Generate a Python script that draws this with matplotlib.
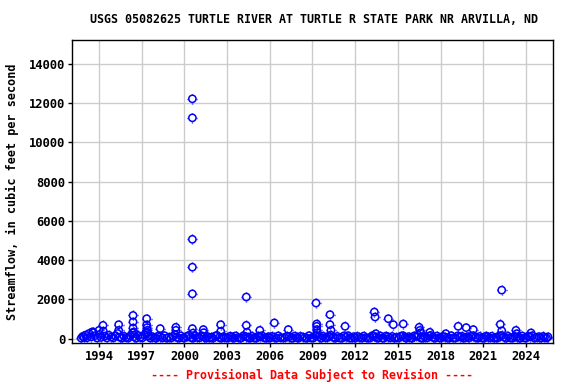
import numpy as np
import matplotlib
matplotlib.use('Agg')
import matplotlib.pyplot as plt
from matplotlib.path import Path

# low-flow band, decimal years and cfs
low_t = [
    1992.75, 1992.85, 1992.95,
    1993.05, 1993.15, 1993.3, 1993.45, 1993.55, 1993.7, 1993.85,
    1994.05, 1994.15, 1994.3, 1994.4, 1994.55, 1994.7, 1994.85,
    1995.0, 1995.15, 1995.3, 1995.45, 1995.6, 1995.75, 1995.9,
    1996.05, 1996.2, 1996.35, 1996.45, 1996.6, 1996.75, 1996.9,
    1997.05, 1997.2, 1997.3, 1997.45, 1997.6, 1997.75, 1997.9,
    1998.0, 1998.15, 1998.3, 1998.45, 1998.6, 1998.75, 1998.9,
    1999.05, 1999.2, 1999.35, 1999.45, 1999.6, 1999.75, 1999.9,
    2000.0, 2000.15, 2000.3, 2000.45, 2000.6, 2000.75, 2000.9,
    2001.05, 2001.2, 2001.35, 2001.5, 2001.6, 2001.75, 2001.9,
    2002.0, 2002.15, 2002.3, 2002.45, 2002.6, 2002.75, 2002.9,
    2003.05, 2003.2, 2003.35, 2003.45, 2003.6, 2003.75, 2003.9,
    2004.0, 2004.15, 2004.3, 2004.45, 2004.6, 2004.75, 2004.9,
    2005.05, 2005.2, 2005.3, 2005.45, 2005.6, 2005.75, 2005.9,
    2006.0, 2006.15, 2006.3, 2006.45, 2006.6, 2006.75, 2006.9,
    2007.05, 2007.2, 2007.35, 2007.5, 2007.6, 2007.75, 2007.9,
    2008.0, 2008.15, 2008.3, 2008.45, 2008.6, 2008.75, 2008.9,
    2009.05, 2009.2, 2009.3, 2009.45, 2009.6, 2009.75, 2009.9,
    2010.0, 2010.15, 2010.3, 2010.45, 2010.6, 2010.75, 2010.9,
    2011.05, 2011.2, 2011.35, 2011.5, 2011.6, 2011.75, 2011.9,
    2012.0, 2012.15, 2012.3, 2012.45, 2012.6, 2012.75, 2012.9,
    2013.05, 2013.2, 2013.3, 2013.45, 2013.6, 2013.75, 2013.9,
    2014.0, 2014.15, 2014.3, 2014.45, 2014.6, 2014.75, 2014.9,
    2015.05, 2015.2, 2015.35, 2015.5, 2015.6, 2015.75, 2015.9,
    2016.0, 2016.15, 2016.3, 2016.45, 2016.6, 2016.75, 2016.9,
    2017.05, 2017.2, 2017.3, 2017.45, 2017.6, 2017.75, 2017.9,
    2018.0, 2018.15, 2018.3, 2018.45, 2018.6, 2018.75, 2018.9,
    2019.05, 2019.2, 2019.35, 2019.5, 2019.6, 2019.75, 2019.9,
    2020.0, 2020.15, 2020.3, 2020.45, 2020.6, 2020.75, 2020.9,
    2021.05, 2021.2, 2021.3, 2021.45, 2021.6, 2021.75, 2021.9,
    2022.0, 2022.15, 2022.3, 2022.45, 2022.6, 2022.75, 2022.9,
    2023.05, 2023.2, 2023.35, 2023.5, 2023.6, 2023.75, 2023.9,
    2024.0, 2024.15, 2024.3, 2024.45, 2024.6, 2024.75, 2024.9,
    2025.05, 2025.2, 2025.3, 2025.45, 2025.55,
]
low_q = [
    20, 110, 60,
    180, 40, 260, 90, 350, 150, 30,
    220, 60, 380, 120, 30, 170, 80,
    40, 150, 260, 70, 20, 120, 50,
    30, 140, 300, 90, 20, 160, 60,
    40, 180, 320, 120, 30, 100, 50,
    20, 130, 90, 40, 150, 20, 70,
    30, 120, 200, 60, 20, 140, 40,
    30, 110, 160, 50, 20, 130, 60,
    40, 150, 90, 20, 110, 30, 70,
    20, 130, 160, 50, 20, 100, 40,
    30, 120, 80, 20, 140, 50, 20,
    40, 150, 100, 60, 20, 120, 30,
    20, 130, 90, 150, 40, 20, 100,
    30, 110, 70, 20, 140, 50, 30,
    40, 120, 90, 30, 20, 130, 60,
    20, 110, 80, 40, 20, 150, 30,
    30, 140, 160, 90, 20, 120, 50,
    40, 130, 170, 60, 20, 110, 30,
    20, 140, 80, 150, 30, 20, 100,
    30, 110, 60, 20, 130, 50, 20,
    40, 150, 120, 70, 20, 140, 30,
    20, 130, 90, 40, 110, 20, 60,
    30, 120, 150, 60, 20, 100, 40,
    20, 140, 110, 170, 30, 20, 90,
    40, 120, 160, 60, 20, 130, 50,
    20, 110, 80, 40, 20, 150, 30,
    30, 140, 90, 120, 20, 50, 100,
    40, 120, 150, 60, 20, 110, 30,
    20, 130, 90, 40, 120, 20, 60,
    30, 140, 160, 70, 20, 120, 40,
    20, 110, 80, 40, 20, 130, 30,
    30, 120, 90, 150, 20, 50, 100,
    20, 110, 60, 30, 90,
]

# higher flows
peak_t = [1994.28, 1993.6, 1994.0, 1995.38, 1995.38, 1996.39, 1996.39, 1996.39, 1996.45,
          1997.35, 1997.35, 1997.38, 1997.4, 1997.42, 1998.3,
          1999.4, 1999.4, 2000.56, 2000.56, 2000.56, 2000.56, 2000.56, 2000.56, 2000.6,
          2001.33, 2001.35, 2002.55, 2002.55, 2004.35, 2004.35, 2004.4, 2005.3,
          2006.32, 2007.3, 2009.25, 2009.3, 2009.3, 2009.3, 2009.35,
          2010.23, 2010.23, 2010.3, 2011.29, 2013.35, 2013.4, 2013.45,
          2014.33, 2014.68, 2015.38, 2016.5, 2016.55, 2016.6, 2017.25, 2018.37,
          2019.24, 2019.8, 2020.3, 2022.2, 2022.3, 2022.3, 2023.3, 2023.35, 2024.36]
peak_q = [675, 300, 420, 710, 420, 1180, 850, 540, 330,
          1015, 700, 560, 420, 300, 510,
          575, 420, 12220, 11250, 5060, 3640, 2280, 510, 280,
          460, 300, 710, 370, 2120, 675, 320, 420,
          800, 460, 1810, 745, 625, 460, 300,
          1220, 710, 420, 625, 1355, 1100, 250,
          1015, 710, 745, 575, 420, 300, 320, 250,
          625, 560, 460, 725, 2470, 400, 420, 250, 290]

x_ticks = [1994, 1997, 2000, 2003, 2006, 2009, 2012, 2015, 2018, 2021, 2024]
y_ticks = [0, 2000, 4000, 6000, 8000, 10000, 12000, 14000]

# four little ticks sticking out of each circle, like the USGS gif markers
verts, codes = [], []
for dx, dy in [(1, 0), (-1, 0), (0, 1), (0, -1)]:
    verts += [(0.72 * dx, 0.72 * dy), (dx, dy)]
    codes += [Path.MOVETO, Path.LINETO]
ticks_mark = Path(verts, codes)

plt.rcParams['font.family'] = 'DejaVu Sans Mono'
plt.rcParams['font.weight'] = 'bold'

fig = plt.figure(figsize=(5.76, 3.84), dpi=100)
ax = fig.add_axes([0.125, 0.107, 0.835, 0.789])

t = np.array(low_t + peak_t)
q = np.array(low_q + peak_q)
ax.scatter(t, q, marker='o', s=27, facecolors='none', edgecolors='#0000ff',
           linewidths=1.1, zorder=3)
ax.scatter(t, q, marker=ticks_mark, s=60, color='#0000ff',
           linewidths=1.0, zorder=3)

ax.set_xlim(1992.1, 2025.9)
ax.set_ylim(-220, 15220)
ax.set_xticks(x_ticks)
ax.set_yticks(y_ticks)
ax.set_xticklabels([str(v) for v in x_ticks], fontsize=8.7, fontweight='bold')
ax.set_yticklabels([str(v) for v in y_ticks], fontsize=8.7, fontweight='bold')
ax.tick_params(length=3, width=1, direction='out', pad=2)
ax.grid(True, color='#cccccc', linewidth=1)
ax.set_axisbelow(True)
for s in ax.spines.values():
    s.set_linewidth(1)

ax.set_ylabel('Streamflow, in cubic feet per second', fontsize=8.5,
              fontweight='bold', labelpad=7)
fig.text(0.545, 0.95, 'USGS 05082625 TURTLE RIVER AT TURTLE R STATE PARK NR ARVILLA, ND',
         ha='center', va='center', fontsize=8.4, fontweight='bold')
fig.text(0.542, 0.023, '---- Provisional Data Subject to Revision ----',
         ha='center', va='center', fontsize=8.4, fontweight='bold', color='#ff0000')

fig.savefig('out.png', dpi=100)
